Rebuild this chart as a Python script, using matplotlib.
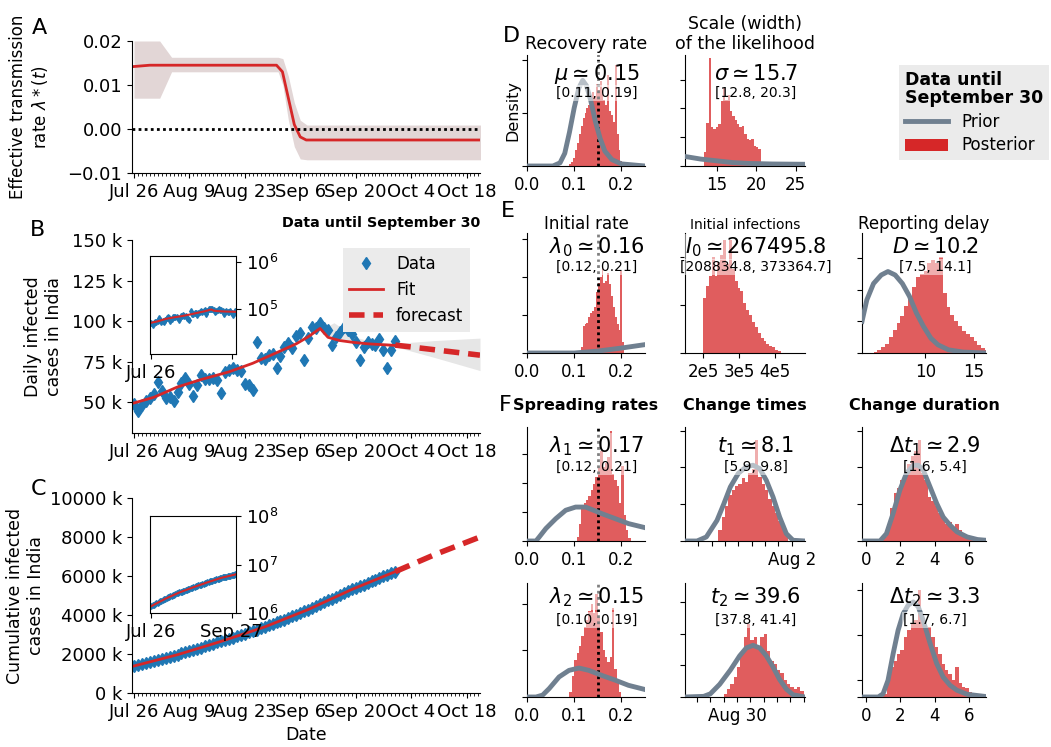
import numpy as np
import matplotlib
matplotlib.use("Agg")
from matplotlib import pyplot as plt
from matplotlib.lines import Line2D
from matplotlib.patches import Patch
from matplotlib.ticker import FuncFormatter, NullLocator, NullFormatter

plt.rcParams["font.family"] = ["DejaVu Sans"]
plt.rcParams["font.size"] = 12
plt.rcParams["axes.spines.top"] = False
plt.rcParams["axes.spines.right"] = False

W, H = 1051, 747

# ---------------- data ----------------
date_ticks = [0, 14, 28, 42, 56, 70, 84]
date_labels = ["Jul 26", "Aug 9", "Aug 23", "Sep 6", "Sep 20", "Oct 4", "Oct 18"]

# A: effective transmission rate (days since Jul 26)
lam_day = [0, 4, 36, 37.5, 39, 40.5, 42, 43.5, 88]
lam_val = [0.0142, 0.0145, 0.0145, 0.0130, 0.0070, 0.0010, -0.0018, -0.0025, -0.0025]
lam_band_day = [0, 6.5, 9.5, 36.4, 37.6, 39, 40.5, 42, 43.7, 88]
lam_band_hi = [0.020, 0.020, 0.0163, 0.0163, 0.0160, 0.012, 0.006, 0.002, 0.0009, 0.0009]
lam_band_lo = [0.007, 0.007, 0.013, 0.013, 0.010, 0.002, -0.004, -0.0068, -0.007, -0.007]

# B: daily new cases (thousands), Jul 26 .. Sep 30
daily_k = [49, 44.5, 48, 51, 52.5, 55, 62.5, 57, 52.5, 53,
           51, 56, 62, 64.8, 61.5, 54, 60.9, 66.7, 64.5, 64.5,
           65, 63.5, 55.5, 68.7, 69.6, 70.8, 69.9, 69.2, 61.5, 60.9,
           57.4, 87, 77, 76.5, 78.8, 79.5, 70.8, 78.4, 83.9, 86.4,
           83.3, 90.6, 92.6, 76, 89.7, 96.5, 95.7, 98.7, 96, 94.4,
           85.2, 90.1, 93, 96.4, 94.4, 92, 86.9, 76, 84, 87,
           86.1, 85.4, 89, 82, 71, 82, 87.7]
fit_day = [0, 5, 11, 17, 24, 30, 36, 41, 44, 47, 49, 52, 55, 59, 66]
fit_k = [49.5, 53, 59.4, 64, 68.7, 74, 80.5, 86, 90.3, 95.5, 90, 88, 87, 86, 85]
fc_day = [66, 76, 87.4]
fc_k = [85.2, 82.3, 79]
b_band_day = [44, 47, 49, 50.5, 53, 56, 60, 66, 76, 87.4]
b_band_hi = [91, 96.5, 97, 99, 95, 90, 87.5, 86.2, 88, 89.5]
b_band_lo = [89.8, 95, 89.5, 88.5, 87.5, 86.8, 85.8, 84.2, 77.5, 69.5]

# C: cumulative cases (thousands)
cum_k = [1385, 1435, 1483, 1532, 1584, 1639, 1695, 1751, 1804, 1855,
         1908, 1964, 2027, 2088, 2153, 2215, 2268, 2329, 2396, 2461,
         2526, 2590, 2647, 2702, 2767, 2837, 2905, 2975, 3044, 3106,
         3167, 3234, 3310, 3387, 3463, 3542, 3621, 3691, 3769, 3853,
         3936, 4023, 4113, 4204, 4280, 4370, 4465, 4562, 4659, 4754,
         4846, 4930, 5020, 5118, 5214, 5308, 5400, 5487, 5562, 5646,
         5732, 5818, 5903, 5992, 6074, 6145, 6225]
c_fit_day = [0, 11, 22, 33, 44, 55, 66]
c_fit_k = [1385, 1964, 2647, 3387, 4280, 5308, 6225]
c_fc_day = [66, 76, 87.4]
c_fc_k = [6225, 7100, 8000]

inset_ticks = [0, 63]

# D/E/F posteriors (bin start, bin width, heights) and priors
mu_start, mu_width = 0.090, 0.004
mu_hist = [0.02, 0.04, 0.08, 0.15, 0.22, 0.30, 0.38, 0.45, 0.50, 0.55,
           0.58, 0.62, 0.70, 0.66, 0.78, 0.72, 0.80, 0.68, 0.62, 0.58,
           0.86, 0.52, 0.48, 0.42, 0.96, 0.30, 0.15, 0.05]
mu_prior_x = [0, 0.055, 0.07, 0.08, 0.09, 0.10, 0.11, 0.118, 0.126, 0.135, 0.145, 0.155, 0.165, 0.18, 0.2, 0.25]
mu_prior_y = [0, 0, 0.03, 0.12, 0.32, 0.55, 0.74, 0.81, 0.76, 0.62, 0.42, 0.26, 0.14, 0.06, 0.02, 0]

sig_start, sig_width = 13.4, 0.3
sig_hist = [0.5, 1.5, 3.75, 1.35, 1.3, 1.35, 1.45, 2.25, 2.7, 2.3,
            2.45, 1.9, 1.75, 1.6, 1.45, 1.35, 1.4, 1.1, 0.95, 0.9,
            0.95, 0.7, 0.65, 0.6]
sig_prior_x = [11, 13, 15, 17, 19, 22, 26.2]
sig_prior_y = [0.33, 0.24, 0.18, 0.12, 0.09, 0.07, 0.06]

l0_start, l0_width = 0.114, 0.004
l0_hist = [0.15, 0.7, 0.75, 0.8, 0.95, 1.05, 1.1, 1.2, 1.6, 1.85,
           2.0, 2.25, 1.85, 1.9, 2.1, 1.8, 1.5, 1.2, 0.95, 0.75,
           0.6, 2.15, 0.3]
l0_prior_x = [0, 0.1, 0.15, 0.2, 0.25]
l0_prior_y = [0, 0.0, 0.05, 0.13, 0.22]

i0_start, i0_width = 2.0e5, 8e3
i0_hist = [1.15, 1.4, 1.6, 2.0, 1.6, 1.9, 2.05, 2.35, 1.85, 2.35,
           1.75, 1.5, 1.35, 1.3, 1.05, 0.9, 0.8, 0.65, 0.55, 0.42,
           0.32, 0.25, 0.18, 0.14, 0.12, 0.07, 0.04]

d_start, d_width = 4.6, 0.4
d_hist = [0.02, 0.1, 0.2, 0.3, 0.5, 0.74, 0.95, 1.16, 1.5, 1.8,
          2.1, 2.4, 2.5, 2.6, 2.85, 2.95, 2.85, 3.05, 1.9, 1.47,
          1.2, 1.0, 0.84, 0.7, 0.6, 0.5, 0.37, 0.26, 0.16, 0.1]
d_prior_x = [3.4, 3.9, 4.6, 5.4, 6.1, 6.85, 7.6, 8.33, 9.07, 9.8, 10.56, 11.3, 12.4, 13.9, 16.3]
d_prior_y = [1.0, 1.68, 2.2, 2.47, 2.58, 2.47, 2.2, 1.8, 1.26, 0.84, 0.47, 0.26, 0.1, 0.03, 0]

l1_start, l1_width = 0.105, 0.005
l1_hist = [0.15, 0.6, 1.1, 1.3, 1.4, 1.55, 1.75, 1.95, 2.2, 2.5,
           3.1, 2.55, 2.7, 2.9, 3.8, 2.3, 2.1, 1.9, 1.3, 2.6,
           0.9, 0.37, 0.1]
l1_prior_x = [0, 0.019, 0.026, 0.04, 0.061, 0.082, 0.103, 0.124, 0.138, 0.159, 0.187, 0.215, 0.25]
l1_prior_y = [0, 0, 0.14, 0.43, 0.77, 1.06, 1.17, 1.17, 1.08, 0.94, 0.77, 0.6, 0.46]

t1_start, t1_width = 5.5, 0.25
t1_hist = [0.3, 0.65, 0.95, 1.25, 1.4, 1.5, 1.55, 1.7, 1.6, 1.85,
           1.95, 2.75, 1.75, 1.55, 1.4, 1.15, 0.95, 0.75, 0.55, 0.38, 0.2]
t1_prior_x = [3.0, 3.9, 4.6, 5.4, 5.9, 6.4, 7.0, 7.6, 8.1, 8.6, 9.1, 9.6, 10.1, 10.6, 11.1, 12.0]
t1_prior_y = [0, 0, 0.11, 0.56, 1.0, 1.47, 1.84, 2.02, 2.06, 1.97, 1.65, 1.2, 0.65, 0.2, 0.02, 0]
t1_ticks = [4, 5, 6, 7, 8, 9, 10, 11]
t1_ticklabels = ["", "", "", "", "", "", "", "Aug 2"]

dt1_start, dt1_width = 1.0, 0.2
dt1_hist = [0.1, 0.45, 0.9, 1.3, 1.45, 1.65, 1.85, 2.1, 2.3, 2.45,
            2.75, 1.85, 1.65, 1.2, 1.1, 0.95, 0.75, 0.65, 0.47, 0.52,
            0.38, 0.47, 0.29, 0.2, 0.12, 0.08, 0.06, 0.03]
dt1_prior_x = [-0.25, 0.8, 1.18, 1.57, 1.96, 2.35, 2.75, 3.04, 3.33, 3.73, 4.12, 4.5, 4.9, 5.3, 5.9, 6.5, 7.0]
dt1_prior_y = [0, 0, 0.2, 0.75, 1.38, 1.84, 2.06, 2.06, 1.93, 1.47, 1.02, 0.65, 0.43, 0.25, 0.11, 0.04, 0.02]

l2_start, l2_width = 0.090, 0.005
l2_hist = [0.1, 0.45, 0.8, 0.95, 1.1, 1.3, 1.5, 1.65, 1.85, 2.0,
           1.8, 2.2, 1.7, 1.4, 1.0, 0.85, 0.75, 0.85, 1.9, 0.6,
           0.3, 0.1]
l2_prior_x = [0, 0.019, 0.033, 0.047, 0.068, 0.089, 0.11, 0.131, 0.159, 0.187, 0.215, 0.25]
l2_prior_y = [0, 0, 0.04, 0.18, 0.43, 0.57, 0.62, 0.57, 0.46, 0.36, 0.25, 0.16]

t2_start, t2_width = 38.0, 0.25
t2_hist = [0.1, 0.25, 0.4, 0.63, 0.95, 1.4, 1.9, 2.3, 1.8, 1.9,
           1.6, 1.9, 2.0, 1.45, 1.15, 1.05, 0.85, 0.75, 0.55, 0.42,
           0.32, 0.26, 0.32, 0.2]
t2_prior_x = [35.1, 36.5, 37.0, 37.7, 38.5, 39.2, 39.7, 40.2, 40.7, 41.2, 41.7, 42.2, 42.7, 43.2, 44.1]
t2_prior_y = [0, 0.02, 0.1, 0.4, 0.85, 1.3, 1.55, 1.63, 1.55, 1.3, 0.95, 0.55, 0.25, 0.07, 0]
t2_ticks = [36, 37, 38, 39, 40, 41, 42, 43, 44]
t2_ticklabels = ["", "", "", "Aug 30", "", "", "", "", ""]

dt2_start, dt2_width = 1.0, 0.2
dt2_hist = [0.07, 0.37, 0.67, 0.81, 0.96, 1.04, 1.33, 1.48, 1.63, 1.7,
            2.37, 1.7, 1.48, 1.55, 1.33, 1.1, 0.96, 0.74, 0.6, 0.52,
            0.37, 0.67, 0.3, 0.22, 0.19, 0.11, 0.08, 0.05]
dt2_prior_x = [-0.25, 0.7, 0.98, 1.27, 1.57, 1.86, 2.16, 2.45, 2.75, 3.04, 3.33, 3.73, 4.12, 4.5, 4.9, 5.3, 5.9, 7.0]
dt2_prior_y = [0, 0, 0.07, 0.37, 0.96, 1.48, 1.85, 2.04, 2.11, 2.0, 1.7, 1.19, 0.74, 0.44, 0.26, 0.15, 0.06, 0.01]

# ---------------- figure ----------------
fig = plt.figure(figsize=(W / 100, H / 100), dpi=100)


def px_axes(left, top, right, bottom):
    return fig.add_axes([left / W, 1 - bottom / H, (right - left) / W, (bottom - top) / H])


def date_axis(ax):
    ax.set_xlim(-0.5, 87.4)
    ax.set_xticks(date_ticks)
    ax.set_xticklabels(date_labels)
    ax.set_xticks(np.arange(0, 88), minor=True)
    ax.tick_params(axis="x", which="minor", length=2)
    ax.tick_params(labelsize=13)


red = "tab:red"
blue = "tab:blue"
dash = (0, (2.8, 1.6))

# A
axA = px_axes(132, 41, 480, 173)
axA.fill_between(lam_band_day, lam_band_lo, lam_band_hi, color="#e2d6d6", lw=0)
axA.plot(lam_day, lam_val, color=red, lw=2)
axA.axhline(0, color="k", ls=(0, (1, 1.2)), lw=2)
axA.set_ylim(-0.01, 0.02)
axA.set_yticks([-0.01, 0, 0.01, 0.02])
date_axis(axA)
axA.set_ylabel("Effective transmission\nrate $\\lambda*(t)$", fontsize=12)
axA.yaxis.set_label_coords(-0.236, 0.5)

kfmt = FuncFormatter(lambda v, p: f"{v:.0f} k")

# B
axB = px_axes(132, 240, 480, 433)
axB.fill_between(b_band_day, b_band_lo, b_band_hi, color="#e6e6e6", lw=0)
axB.plot(np.arange(len(daily_k)), daily_k, "d", color=blue, ms=6, label="Data")
axB.plot(fit_day, fit_k, color=red, lw=2, label="Fit")
axB.plot(fc_day, fc_k, color=red, lw=4, ls=dash, label="forecast")
axB.set_ylim(31, 150)
axB.set_yticks([50, 75, 100, 125, 150])
axB.yaxis.set_major_formatter(kfmt)
date_axis(axB)
axB.set_ylabel("Daily infected\ncases in India", fontsize=12.5)
axB.yaxis.set_label_coords(-0.198, 0.5)
axB.set_title("Data until September 30", loc="right", fontweight="bold", fontsize=10.3, pad=9)
axB.legend(loc="upper right", bbox_to_anchor=(470 / W, 1 - 248 / H), bbox_transform=fig.transFigure,
           facecolor="#ebebeb", edgecolor="none", framealpha=1, fancybox=False, fontsize=12,
           borderaxespad=0, numpoints=1)

# C
axC = px_axes(132, 498, 480, 693)
axC.plot(np.arange(len(cum_k)), cum_k, "d", color=blue, ms=6)
axC.plot(c_fit_day, c_fit_k, color=red, lw=2)
axC.plot(c_fc_day, c_fc_k, color=red, lw=4, ls=dash)
axC.set_ylim(0, 10000)
axC.set_yticks([0, 2000, 4000, 6000, 8000, 10000])
axC.yaxis.set_major_formatter(kfmt)
date_axis(axC)
axC.set_xlabel("Date", fontsize=12.5)
axC.set_ylabel("Cumulative infected\ncases in India", fontsize=12.5)
axC.yaxis.set_label_coords(-0.25, 0.5)


def inset(ax_box, yvals, fx, fy, ylim, yticks, xlabels):
    ax = px_axes(*ax_box)
    ax.plot(np.arange(len(yvals)), np.array(yvals) * 1e3, "d", color=blue, ms=3)
    ax.plot(fx, np.array(fy) * 1e3, color=red, lw=1.5)
    ax.set_yscale("log")
    ax.set_ylim(*ylim)
    ax.set_yticks(yticks)
    ax.yaxis.set_minor_locator(NullLocator())
    ax.yaxis.tick_right()
    ax.spines["top"].set_visible(True)
    ax.spines["right"].set_visible(True)
    ax.set_xlim(-1, 66.5)
    ax.set_xticks(inset_ticks)
    ax.set_xticklabels(xlabels)
    ax.tick_params(labelsize=13)
    return ax


inset((150, 256, 236, 354), daily_k, fit_day, fit_k, (1.05e4, 1.35e6), [1e5, 1e6], ["Jul 26", ""])
inset((150, 516, 236, 613), cum_k, c_fit_day, c_fit_k, (1e6, 1e8), [1e6, 1e7, 1e8], ["Jul 26", "Sep 27"])

for lab, (x, y) in zip("ABC", [(39, 28), (37, 230), (38, 489)]):
    fig.text(x / W, 1 - y / H, lab, fontsize=16, ha="center", va="center")

# right-hand posterior panels
cols = [(527, 645), (685, 805), (862, 986)]
rows = [(55, 166), (233, 353), (427, 541), (583, 697)]


def hist_panel(r, c, start, width, heights, xlim, ytop, yticks, px=None, py=None, truth=False):
    ax = px_axes(cols[c][0], rows[r][0], cols[c][1], rows[r][1])
    edges = start + width * np.arange(len(heights) + 1)
    ax.stairs(heights, edges, fill=True, color=red, alpha=0.75, lw=0, zorder=1)
    if truth:
        ax.axvline(0.15, color="k", ls=(0, (1, 1.2)), lw=2, zorder=2)
    if px is not None:
        ax.plot(px, py, color="slategray", lw=3.5, zorder=3)
    ax.set_xlim(*xlim)
    ax.set_ylim(0, ytop)
    ax.set_yticks(yticks)
    ax.yaxis.set_major_formatter(NullFormatter())
    return ax


box = dict(facecolor="white", alpha=0.5, edgecolor="none", pad=1)


def annot(ax, main, sub, y_main, y_sub):
    bb = ax.get_position()
    x = bb.x0 + 0.59 * bb.width
    fig.text(x, 1 - y_main / H, main, ha="center", va="center", fontsize=15, bbox=box)
    fig.text(x, 1 - y_sub / H, sub, ha="center", va="center", fontsize=10, bbox=box)


# D
ax = hist_panel(0, 0, mu_start, mu_width, mu_hist, (0, 0.25), 1.05, [0, 0.5, 1.0], mu_prior_x, mu_prior_y, truth=True)
ax.set_xticks([0, 0.1, 0.2])
ax.set_ylabel("Density", fontsize=11.5)
ax.yaxis.set_label_coords(-0.06, 0.5)
ax.set_title("Recovery rate", fontsize=12.5, pad=4)
annot(ax, r"$\mu \simeq 0.15$", "[0.11, 0.19]", 74, 93)

ax = hist_panel(0, 1, sig_start, sig_width, sig_hist, (11, 26.2), 3.85, [0, 1, 2, 3], sig_prior_x, sig_prior_y)
ax.set_xticks([15, 20, 25])
ax.set_title("Scale (width)\nof the likelihood", fontsize=12.5, pad=4)
annot(ax, r"$\sigma \simeq 15.7$", "[12.8, 20.3]", 74, 93)

# E
ax = hist_panel(1, 0, l0_start, l0_width, l0_hist, (0, 0.25), 3.15, [0, 1, 2, 3], l0_prior_x, l0_prior_y, truth=True)
ax.set_xticks([0, 0.1, 0.2])
ax.set_title("Initial rate", fontsize=12, pad=3)
annot(ax, r"$\lambda_0 \simeq 0.16$", "[0.12, 0.21]", 247, 267)

ax = hist_panel(1, 1, i0_start, i0_width, i0_hist, (1.5e5, 4.83e5), 2.5, [0, 1, 2])
ax.set_xticks([2e5, 3e5, 4e5])
ax.set_xticklabels(["2e5", "3e5", "4e5"])
ax.set_title("Initial infections", fontsize=10, pad=3)
annot(ax, r"$I_0 \simeq 267495.8$", "[208834.8, 373364.7]", 247, 267)

ax = hist_panel(1, 2, d_start, d_width, d_hist, (3.4, 16.3), 3.8, [0, 1, 2, 3], d_prior_x, d_prior_y)
ax.set_xticks([10, 15])
ax.set_title("Reporting delay", fontsize=12, pad=3)
annot(ax, r"$D \simeq 10.2$", "[7.5, 14.1]", 247, 267)

# F
ax = hist_panel(2, 0, l1_start, l1_width, l1_hist, (0, 0.25), 3.93, [0, 1, 2, 3], l1_prior_x, l1_prior_y, truth=True)
ax.set_xticks([0, 0.1, 0.2])
ax.set_title("Spreading rates", fontsize=11.5, fontweight="bold", pad=12)
annot(ax, r"$\lambda_1 \simeq 0.17$", "[0.12, 0.21]", 446, 467)

ax = hist_panel(2, 1, t1_start, t1_width, t1_hist, (3, 12), 3.1, [0, 1, 2, 3], t1_prior_x, t1_prior_y)
ax.set_xticks(t1_ticks)
ax.set_xticklabels(t1_ticklabels)
ax.set_title("Change times", fontsize=11.5, fontweight="bold", pad=12)
annot(ax, r"$t_1 \simeq 8.1$", "[5.9, 9.8]", 446, 467)

ax = hist_panel(2, 2, dt1_start, dt1_width, dt1_hist, (-0.25, 7), 3.1, [0, 1, 2, 3], dt1_prior_x, dt1_prior_y)
ax.set_xticks([0, 2, 4, 6])
ax.set_title("Change duration", fontsize=11.5, fontweight="bold", pad=12)
annot(ax, r"$\Delta t_1 \simeq 2.9$", "[1.6, 5.4]", 446, 467)

ax = hist_panel(3, 0, l2_start, l2_width, l2_hist, (0, 0.25), 2.44, [0, 1, 2], l2_prior_x, l2_prior_y, truth=True)
ax.set_xticks([0, 0.1, 0.2])
annot(ax, r"$\lambda_2 \simeq 0.15$", "[0.10, 0.19]", 597, 620)

ax = hist_panel(3, 1, t2_start, t2_width, t2_hist, (35.1, 44.1), 3.6, [0, 1, 2, 3], t2_prior_x, t2_prior_y)
ax.set_xticks(t2_ticks)
ax.set_xticklabels(t2_ticklabels)
annot(ax, r"$t_2 \simeq 39.6$", "[37.8, 41.4]", 597, 620)

ax = hist_panel(3, 2, dt2_start, dt2_width, dt2_hist, (-0.25, 7), 2.53, [0, 0.37, 1.37, 2.37], dt2_prior_x, dt2_prior_y)
ax.set_xticks([0, 2, 4, 6])
annot(ax, r"$\Delta t_2 \simeq 3.3$", "[1.7, 6.7]", 597, 620)

for lab, (x, y) in zip("DEF", [(511, 36), (508, 211), (505, 405)]):
    fig.text(x / W, 1 - y / H, lab, fontsize=16, ha="center", va="center")

handles = [Line2D([], [], color="slategray", lw=3.5), Patch(facecolor=red, edgecolor="none")]
leg = fig.legend(handles, ["Prior", "Posterior"], loc="upper right", bbox_to_anchor=(1049 / W, 1 - 65 / H),
                 title="Data until\nSeptember 30", title_fontproperties={"weight": "bold", "size": 12.5},
                 fontsize=12, facecolor="#ebebeb", edgecolor="none", framealpha=1, fancybox=False,
                 borderaxespad=0, handlelength=2.6, labelspacing=0.35, borderpad=0.35)
leg.get_title().set_linespacing(1.0)
leg._legend_box.align = "left"

fig.savefig("out.png", dpi=100)
